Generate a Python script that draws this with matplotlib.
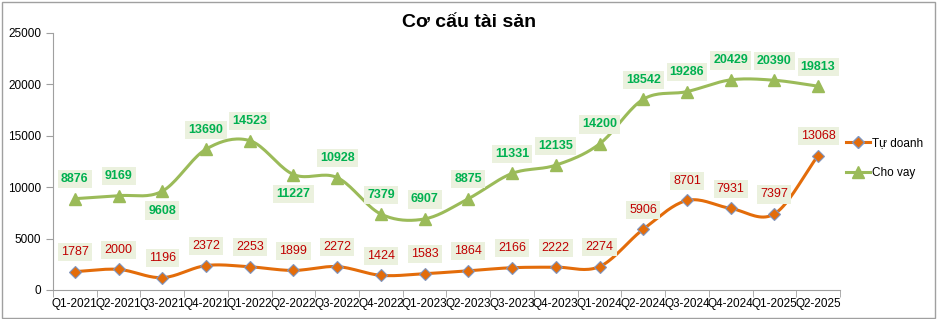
import matplotlib
matplotlib.use("Agg")
import matplotlib.pyplot as plt
from matplotlib.lines import Line2D
import numpy as np

categories = ["Q1-2021", "Q2-2021", "Q3-2021", "Q4-2021", "Q1-2022", "Q2-2022",
              "Q3-2022", "Q4-2022", "Q1-2023", "Q2-2023", "Q3-2023", "Q4-2023",
              "Q1-2024", "Q2-2024", "Q3-2024", "Q4-2024", "Q1-2025", "Q2-2025"]
tu_doanh = [1787, 2000, 1196, 2372, 2253, 1899, 2272, 1424, 1583, 1864, 2166, 2222,
            2274, 5906, 8701, 7931, 7397, 13068]
cho_vay = [8876, 9169, 9608, 13690, 14523, 11227, 10928, 7379, 6907, 8875, 11331, 12135,
           14200, 18542, 19286, 20429, 20390, 19813]
# labels placed under the point for these categories
cho_vay_below = {2, 5}


def smooth(x, y, n=20):
    # Catmull-Rom spline like Excel's smoothed line
    x = np.asarray(x, float)
    y = np.asarray(y, float)
    px = np.concatenate([[2 * x[0] - x[1]], x, [2 * x[-1] - x[-2]]])
    py = np.concatenate([[2 * y[0] - y[1]], y, [2 * y[-1] - y[-2]]])
    xs, ys = [], []
    t = np.linspace(0, 1, n, endpoint=False)
    for i in range(1, len(px) - 2):
        for p, out in ((px, xs), (py, ys)):
            p0, p1, p2, p3 = p[i - 1], p[i], p[i + 1], p[i + 2]
            out.extend(0.5 * (2 * p1 + (-p0 + p2) * t
                              + (2 * p0 - 5 * p1 + 4 * p2 - p3) * t ** 2
                              + (-p0 + 3 * p1 - 3 * p2 + p3) * t ** 3))
    xs.append(x[-1])
    ys.append(y[-1])
    return np.array(xs), np.array(ys)


plt.rcParams["font.family"] = ["Liberation Sans", "DejaVu Sans"]

fig = plt.figure(figsize=(9.38, 3.19), dpi=100)
ax = fig.add_axes([0.0565, 0.091, 0.839, 0.806])

x = np.arange(len(categories))
orange = "#E36C0A"
green = "#9BBB59"

sx, sy = smooth(x, tu_doanh)
ax.plot(sx, sy, color=orange, lw=2.2, zorder=2)
ax.plot(x, tu_doanh, ls="none", marker="D", ms=6, mfc=orange, mec="#7F95BF",
        mew=0.8, zorder=3)
sx, sy = smooth(x, cho_vay)
ax.plot(sx, sy, color=green, lw=2.2, zorder=2)
ax.plot(x, cho_vay, ls="none", marker="^", ms=8, mfc=green, mec=green, zorder=3)

box = dict(boxstyle="square,pad=0.25", fc="#EBF1DE", ec="none")
for i, v in enumerate(tu_doanh):
    ax.annotate(str(v), (i, v), xytext=(0, 14), textcoords="offset points",
                ha="center", va="center", fontsize=9, color="#C00000", bbox=box, zorder=4)
for i, v in enumerate(cho_vay):
    dy = -14 if i in cho_vay_below else 14
    ax.annotate(str(v), (i, v), xytext=(0, dy), textcoords="offset points",
                ha="center", va="center", fontsize=9, color="#00B050",
                fontweight="bold", bbox=box, zorder=4)

ax.set_xlim(-0.5, len(categories) - 0.5)
ax.set_ylim(0, 25000)
ax.set_yticks(range(0, 25001, 5000))
ax.set_xticks(x)
ax.set_xticklabels(categories)
ax.set_xticks(np.arange(-0.5, len(categories)), minor=True)
ax.tick_params(axis="x", which="major", length=0, labelsize=8.5, pad=6)
ax.tick_params(axis="x", which="minor", length=5, color="#A0A0A0")
ax.tick_params(axis="y", length=5, color="#A0A0A0", labelsize=8.5)
for s in ("top", "right"):
    ax.spines[s].set_visible(False)
for s in ("left", "bottom"):
    ax.spines[s].set_color("#A0A0A0")

fig.text(0.5, 0.93, "Cơ cấu tài sản", ha="center", va="center", fontsize=14,
         fontweight="bold")

handles = [Line2D([], [], color=orange, lw=2.2, marker="D", ms=6, mfc=orange, mec="#7F95BF"),
           Line2D([], [], color=green, lw=2.2, marker="^", ms=8, mfc=green, mec=green)]
fig.legend(handles, ["Tự doanh", "Cho vay"], loc="center left",
           bbox_to_anchor=(0.902, 0.505), frameon=False, fontsize=8.5,
           handlelength=2.0, labelspacing=1.5, handletextpad=0.2,
           borderpad=0, borderaxespad=0)

fig.patches.append(plt.Rectangle((0.002, 0.004), 0.995, 0.99, transform=fig.transFigure,
                                 fill=False, ec="#A0A0A0", lw=1))

fig.savefig("out.png", dpi=100)
